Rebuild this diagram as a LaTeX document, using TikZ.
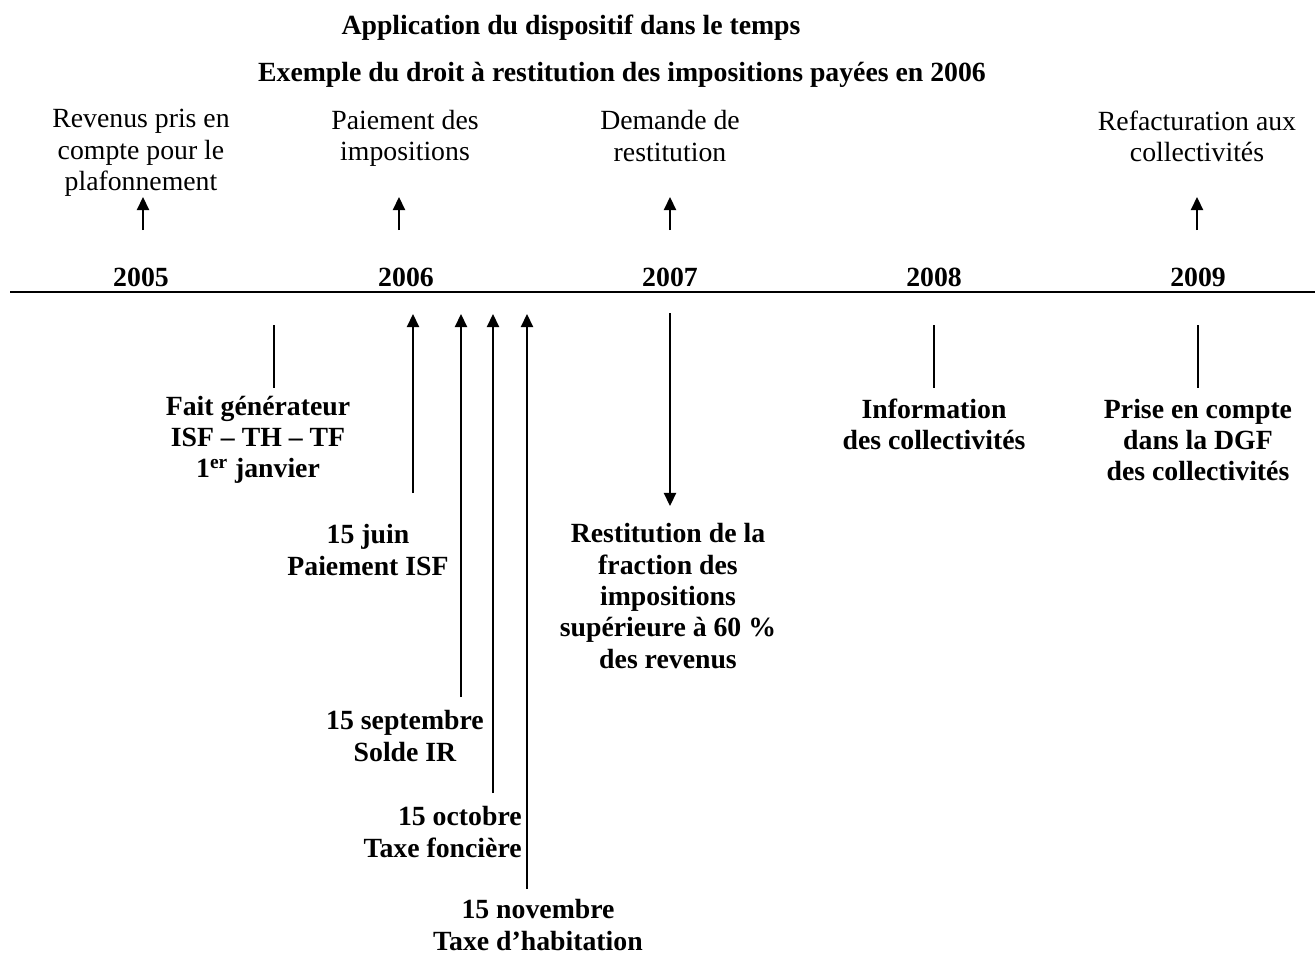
\documentclass[tikz,border=0pt]{standalone}
\usepackage{fontspec}
\setmainfont{Liberation Serif}
\usetikzlibrary{arrows.meta}

\tikzset{
  lbl/.style={align=center, inner sep=0pt, font=\fontsize{15.8}{17.8}\selectfont},
  blbl/.style={lbl, font=\fontsize{15.8}{17.8}\selectfont\bfseries},
  tip/.style={-{Triangle[width=7pt,length=7.5pt]}, line width=0.9pt},
  tick/.style={line width=0.6pt},
}

\begin{document}
\begin{tikzpicture}[x=0.02cm, y=-0.02cm]
\useasboundingbox (0,0) rectangle (1315,954);

% titles
\node[blbl] (T1) at (571,28) {Application du dispositif dans le temps};
\node[blbl] (T2) at (622,75) {Exemple du droit à restitution des impositions payées en 2006};

% top labels
\node[lbl] (R5) at (141,153) {Revenus pris en\\compte pour le\\plafonnement};
\node[lbl] (P6) at (405,138) {Paiement des\\impositions};
\node[lbl] (D7) at (670,136) {Demande de\\restitution};
\node[lbl] (F9) at (1197,136) {Refacturation aux\\collectivités};

\coordinate (a5) at (143,230); \coordinate (b5) at (143,197);
\coordinate (a6) at (399,230); \coordinate (b6) at (399,197);
\coordinate (a7) at (670,230); \coordinate (b7) at (670,197);
\coordinate (a9) at (1197,230); \coordinate (b9) at (1197,197);
\draw[tip] (a5) -- (b5);
\draw[tip] (a6) -- (b6);
\draw[tip] (a7) -- (b7);
\draw[tip] (a9) -- (b9);

% years
\node[blbl] (Y5) at (141,277) {2005};
\node[blbl] (Y6) at (406,277) {2006};
\node[blbl] (Y7) at (670,277) {2007};
\node[blbl] (Y8) at (934,277) {2008};
\node[blbl] (Y9) at (1198,277) {2009};
\coordinate (L0) at (10,292); \coordinate (L1) at (1315,292);
\draw[line width=1pt] (L0) -- (L1);

% below the line
\node[blbl] (FG) at (258,440) {Fait générateur\\ISF – TH – TF\\1\textsuperscript{er} janvier};
\coordinate (g0) at (274,325); \coordinate (g1) at (274,388);
\draw[tick] (g0) -- (g1);

\node[blbl] (JN) at (368,550) {15 juin\\Paiement ISF};
\node[blbl] (SP) at (405,736) {15 septembre\\Solde IR};
\node[blbl, align=right, anchor=east] (OC) at (522,832) {15 octobre\\Taxe foncière};
\node[blbl] (NV) at (538,925) {15 novembre\\Taxe d’habitation};
\coordinate (j0) at (413,493); \coordinate (j1) at (413,314);
\coordinate (s0) at (461,697); \coordinate (s1) at (461,314);
\coordinate (o0) at (493,793); \coordinate (o1) at (493,314);
\coordinate (n0) at (527,889); \coordinate (n1) at (527,314);
\draw[tip] (j0) -- (j1);
\draw[tip] (s0) -- (s1);
\draw[tip] (o0) -- (o1);
\draw[tip] (n0) -- (n1);

\node[blbl] (RS) at (668,596) {Restitution de la\\fraction des\\impositions\\supérieure à 60 \%\\des revenus};
\coordinate (r0) at (670,313); \coordinate (r1) at (670,506);
\draw[tip] (r0) -- (r1);

\node[blbl] (IN) at (934,424) {Information\\des collectivités};
\coordinate (i0) at (934,325); \coordinate (i1) at (934,388);
\draw[tick] (i0) -- (i1);

\node[blbl] (PC) at (1198,440) {Prise en compte\\dans la DGF\\des collectivités};
\coordinate (p0) at (1198,325); \coordinate (p1) at (1198,388);
\draw[tick] (p0) -- (p1);
\end{tikzpicture}
\end{document}
